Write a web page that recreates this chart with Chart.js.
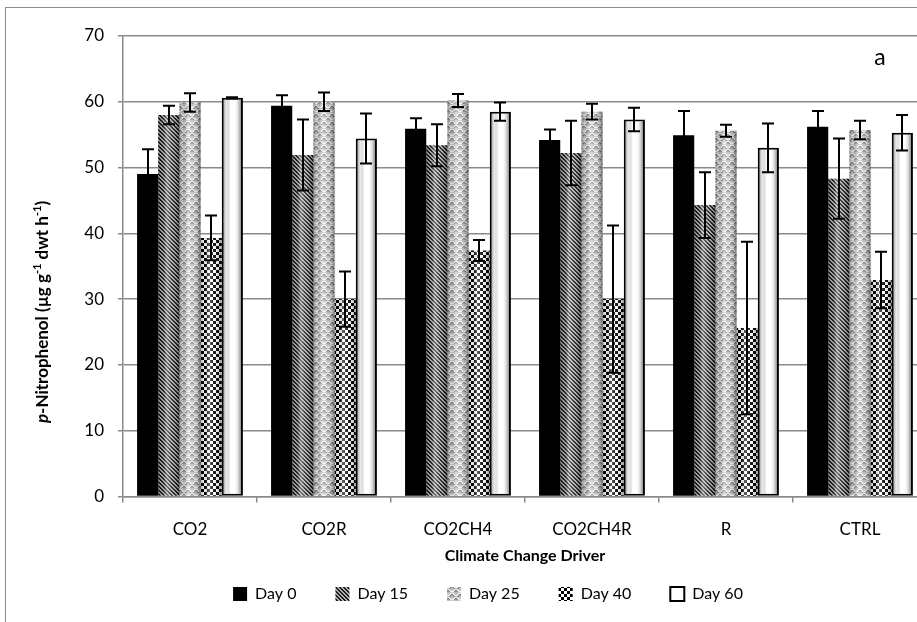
<!DOCTYPE html>
<html lang="en">
<head>
<meta charset="UTF-8">
<title>p-Nitrophenol by climate change driver</title>
<script src="https://cdn.jsdelivr.net/npm/chart.js"></script>
<style>
  html, body { margin: 0; padding: 0; background: #fff; overflow: hidden; }
  #wrap { position: absolute; left: 0; top: 0; }
</style>
</head>
<body>
<div id="wrap"><canvas id="chart" width="982" height="660"></canvas></div>
<script>
const categories = ['CO2', 'CO2R', 'CO2CH4', 'CO2CH4R', 'R', 'CTRL'];
const seriesNames = ['Day 0', 'Day 15', 'Day 25', 'Day 40', 'Day 60'];

const day0  = [49.0, 59.4, 55.9, 54.2, 54.9, 56.2];
const day15 = [58.0, 51.9, 53.4, 52.2, 44.3, 48.3];
const day25 = [59.9, 60.0, 60.2, 58.5, 55.6, 55.7];
const day40 = [39.3, 30.0, 37.4, 30.0, 25.6, 32.9];
const day60 = [60.6, 54.4, 58.5, 57.3, 53.0, 55.3];

// +/- error bar half lengths
const err0  = [3.8, 1.6, 1.6, 1.6, 3.7, 2.4];
const err15 = [1.4, 5.4, 3.2, 4.9, 5.0, 6.1];
const err25 = [1.4, 1.4, 1.0, 1.2, 0.9, 1.4];
const err40 = [3.4, 4.2, 1.6, 11.2, 13.1, 4.3];
const err60 = [0.1, 3.8, 1.4, 1.8, 3.7, 2.7];

const yMin = 0, yMax = 70, yStep = 10;

const seriesValues = [day0, day15, day25, day40, day60];
const seriesErrors = [err0, err15, err25, err40, err60];

const canvas = document.getElementById('chart');
const ctx = canvas.getContext('2d');

function tile(w, h, draw) {
    const c = document.createElement('canvas');
    c.width = w; c.height = h;
    draw(c.getContext('2d'));
    return ctx.createPattern(c, 'repeat');
}

// fills that imitate the Excel pattern fills
const fills = [
    '#000000',
    tile(4, 4, g => {
        g.fillStyle = '#b0b0b0'; g.fillRect(0, 0, 4, 4);
        g.fillStyle = '#1c1c1c';
        for (let i = 0; i < 4; i++) { g.fillRect(i, i, 1, 1); g.fillRect((i + 1) % 4, i, 1, 1); }
    }),
    tile(8, 8, g => {
        g.fillStyle = '#bdbdbd'; g.fillRect(0, 0, 8, 8);
        [[0, 0], [8, 0], [4, 4], [0, 8], [8, 8]].forEach(([cx, cy]) => {
            g.beginPath(); g.arc(cx, cy, 3.5, 0.15, Math.PI - 0.15);
            g.strokeStyle = '#f4f4f4'; g.lineWidth = 1.5; g.stroke();
            g.beginPath(); g.arc(cx, cy + 1, 3.8, 0.3, Math.PI - 0.3);
            g.strokeStyle = '#555'; g.lineWidth = 0.9; g.stroke();
        });
    }),
    tile(6, 6, g => {
        g.fillStyle = '#ffffff'; g.fillRect(0, 0, 6, 6);
        g.fillStyle = '#000000'; g.fillRect(0, 0, 3, 3); g.fillRect(3, 3, 3, 3);
    }),
    '#ffffff'
];

const FONT = 'Lato, "Open Sans", sans-serif';

const decorPlugin = {
    id: 'decor',
    beforeDraw(chart) {
        const c = chart.ctx;
        c.save();
        c.fillStyle = '#fff';
        c.fillRect(0, 0, chart.width, chart.height);
        c.strokeStyle = '#8c8c8c';
        c.lineWidth = 1;
        c.strokeRect(5.5, 7.5, chart.width + 20, chart.height + 20);
        c.restore();
    },
    afterDatasetsDraw(chart) {
        const c = chart.ctx;
        const y = chart.scales.y;
        c.save();
        // cylinder shading on the patterned bars
        for (let d = 1; d < chart.data.datasets.length; d++) {
            const ds = chart.data.datasets[d];
            const inset = ds.borderWidth || 0;
            chart.getDatasetMeta(d).data.forEach(el => {
                const p = el.getProps(['x', 'y', 'base', 'width'], true);
                const l = p.x - p.width / 2 + inset, r = p.x + p.width / 2 - inset;
                const t = p.y + inset, b = p.base - inset;
                const g = c.createLinearGradient(l, 0, r, 0);
                g.addColorStop(0, 'rgba(0,0,0,0.30)');
                g.addColorStop(0.15, 'rgba(0,0,0,0.08)');
                g.addColorStop(0.4, 'rgba(255,255,255,0.40)');
                g.addColorStop(0.65, 'rgba(255,255,255,0.10)');
                g.addColorStop(0.88, 'rgba(0,0,0,0.20)');
                g.addColorStop(1, 'rgba(0,0,0,0.45)');
                c.fillStyle = g;
                c.fillRect(l, t, r - l, b - t);
            });
        }
        // error bars
        c.strokeStyle = '#000';
        c.lineWidth = 2;
        chart.data.datasets.forEach((ds, d) => {
            chart.getDatasetMeta(d).data.forEach((el, i) => {
                const v = ds.data[i], e = seriesErrors[d][i];
                const x = Math.round(el.x);
                const top = y.getPixelForValue(v + e), bot = y.getPixelForValue(v - e);
                c.beginPath();
                c.moveTo(x, top); c.lineTo(x, bot);
                c.moveTo(x - 6, top); c.lineTo(x + 6, top);
                c.moveTo(x - 6, bot); c.lineTo(x + 6, bot);
                c.stroke();
            });
        });
        c.restore();
    },
    afterDraw(chart) {
        const c = chart.ctx;
        const area = chart.chartArea;
        c.save();
        c.fillStyle = '#000';
        c.font = '23px ' + FONT;
        c.textAlign = 'center';
        c.textBaseline = 'middle';
        c.fillText('a', area.right - 47, area.top + 22);

        // y axis title with italic p and superscripts
        const parts = [
            { text: 'p', font: 'italic bold 17px ' + FONT },
            { text: '-Nitrophenol (\u00b5g g', font: 'bold 17px ' + FONT },
            { text: '-1', font: 'bold 11px ' + FONT, sup: true },
            { text: ' dwt h', font: 'bold 17px ' + FONT },
            { text: '-1', font: 'bold 11px ' + FONT, sup: true },
            { text: ')', font: 'bold 17px ' + FONT }
        ];
        let total = 0;
        parts.forEach(p => { c.font = p.font; p.w = c.measureText(p.text).width; total += p.w; });
        c.translate(43, 312);
        c.rotate(-Math.PI / 2);
        c.textAlign = 'left';
        let x = -total / 2;
        parts.forEach(p => {
            c.font = p.font;
            c.fillText(p.text, x, p.sup ? -6 : 0);
            x += p.w;
        });
        c.restore();
    }
};

new Chart(ctx, {
    type: 'bar',
    data: {
        labels: categories,
        datasets: seriesNames.map((name, i) => ({
            label: name,
            data: seriesValues[i],
            backgroundColor: fills[i],
            borderColor: '#000',
            borderWidth: i === 4 ? 2 : 0,
            borderSkipped: i === 4 ? false : 'start'
        }))
    },
    options: {
        responsive: false,
        animation: false,
        layout: { padding: { left: 49, right: 55, top: 36, bottom: 48 } },
        datasets: { bar: { categoryPercentage: 0.79, barPercentage: 1 } },
        plugins: {
            legend: {
                position: 'bottom',
                labels: {
                    boxWidth: 14, boxHeight: 14, padding: 39, color: '#000',
                    font: { family: FONT, size: 16 }
                }
            },
            tooltip: { enabled: false }
        },
        scales: {
            x: {
                grid: { offset: true, drawOnChartArea: false, tickLength: 6, color: '#8a8a8a', lineWidth: 1.5 },
                border: { color: '#8a8a8a', width: 1.5 },
                ticks: { color: '#000', font: { family: FONT, size: 17 }, padding: 17, maxRotation: 0 },
                title: {
                    display: true, text: 'Climate Change Driver', color: '#000',
                    font: { family: FONT, size: 16, weight: 'bold' },
                    padding: { top: -11, bottom: -18 }
                }
            },
            y: {
                min: yMin, max: yMax,
                ticks: { stepSize: yStep, color: '#000', font: { family: FONT, size: 17 }, padding: 14 },
                grid: { color: '#8a8a8a', lineWidth: 1.5, tickLength: 5 },
                border: { color: '#8a8a8a', width: 1.5 },
                afterFit: s => { s.width = 74; }
            }
        }
    },
    plugins: [decorPlugin]
});
</script>
</body>
</html>
